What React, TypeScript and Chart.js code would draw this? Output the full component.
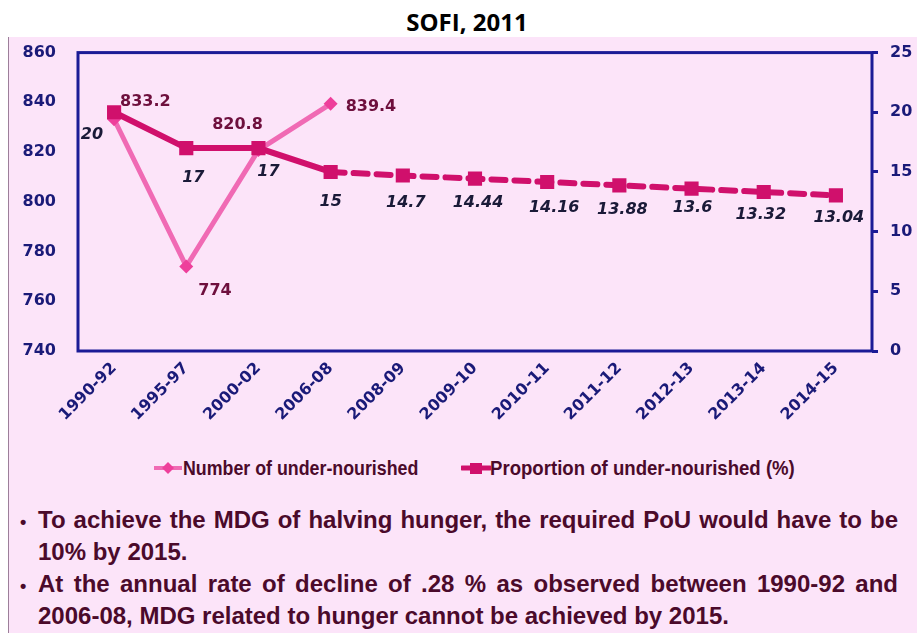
import React, { useEffect, useRef } from "react";
import { Chart, registerables } from "chart.js";

Chart.register(...registerables);

// ---- data ----
const periods = [
  "1990-92", "1995-97", "2000-02", "2006-08", "2008-09", "2009-10",
  "2010-11", "2011-12", "2012-13", "2013-14", "2014-15",
];
const underNourishedMillions: (number | null)[] = [833.2, 774, 820.8, 839.4, null, null, null, null, null, null, null];
const underNourishedPercent = [20, 17, 17, 15, 14.7, 14.44, 14.16, 13.88, 13.6, 13.32, 13.04];
const lastObservedIndex = 3; // 2006-08; later points are projections (dashed)
const leftAxis = { min: 740, max: 860, step: 20 };
const rightAxis = { min: 0, max: 25, step: 5 };

const seriesNames = ["Number of under-nourished", "Proportion of under-nourished (%)"];
const notes = [
  "To achieve the MDG of halving hunger, the required PoU would have to be 10% by  2015.",
  "At the annual rate of decline of .28 % as observed between 1990-92 and 2006-08, MDG related to hunger cannot be achieved by 2015.",
];

// ---- styles ----
const PINK_BG = "#FCE4F9";
const NAVY = "#1B1B96";
const NAVY_TEXT = "#1A1A78";
const PINK_LINE = "#F06AB4";
const PINK_MARK = "#EE3F9B";
const CRIMSON = "#D0106C";
const MAROON = "#6E0F3D";
const DARK_LABEL = "#1A1A38";
const TEXT_MAROON = "#4B0A2B";
const NARROW = '"Liberation Sans Narrow", "Arial Narrow", sans-serif';

// label placement [dx, dy, align]
const numberLabelPos: [number, number, CanvasTextAlign][] = [
  [6, -17, "left"], [12, 24, "left"], [-21, -25, "center"], [15, 3, "left"],
];
const percentLabelPos: [number, number, CanvasTextAlign][] = [
  [-11, 23, "right"], [7, 30, "center"], [10, 24, "center"], [0, 30, "center"],
  [3, 27, "center"], [3, 24, "center"], [7, 26, "center"], [3, 25, "center"],
  [1, 19, "center"], [-3, 23, "center"], [3, 22, "center"],
];

const framePlugin = {
  id: "frame",
  beforeDatasetsDraw(chart: any) {
    const { ctx, chartArea: a } = chart;
    ctx.save();
    ctx.strokeStyle = NAVY;
    ctx.lineWidth = 3;
    ctx.strokeRect(a.left, a.top, a.right - a.left, a.bottom - a.top);
    ctx.restore();
  },
};

const labelPlugin = {
  id: "pointLabels",
  afterDatasetsDraw(chart: any) {
    const { ctx } = chart;
    ctx.save();
    ctx.textBaseline = "middle";
    chart.data.datasets.forEach((ds: any, di: number) => {
      const meta = chart.getDatasetMeta(di);
      const isPct = ds.yAxisID === "y2";
      ctx.font = isPct ? 'italic bold 16px "DejaVu Sans"' : 'bold 16px "DejaVu Sans"';
      ctx.fillStyle = isPct ? DARK_LABEL : MAROON;
      const pos = isPct ? percentLabelPos : numberLabelPos;
      meta.data.forEach((pt: any, i: number) => {
        const v = ds.data[i];
        if (v == null || !pos[i]) return;
        const [dx, dy, al] = pos[i];
        ctx.textAlign = al;
        ctx.fillText(String(v), pt.x + dx, pt.y + dy);
      });
    });
    ctx.restore();
  },
};

function ChartCanvas() {
  const ref = useRef<HTMLCanvasElement | null>(null);
  useEffect(() => {
    if (!ref.current) return;
    const chart = new Chart(ref.current, {
      type: "line",
      data: {
        labels: periods,
        datasets: [
          {
            label: seriesNames[1],
            data: underNourishedPercent,
            yAxisID: "y2",
            borderColor: CRIMSON,
            backgroundColor: CRIMSON,
            borderWidth: 6,
            pointStyle: "rect",
            pointRadius: 10,
            pointBorderWidth: 0,
            pointBackgroundColor: CRIMSON,
            borderCapStyle: "round",
            tension: 0,
            order: 0,
            segment: {
              borderDash: (c: any) => (c.p0DataIndex >= lastObservedIndex ? [14, 9] : undefined),
            },
          } as any,
          {
            label: seriesNames[0],
            data: underNourishedMillions,
            yAxisID: "y",
            borderColor: PINK_LINE,
            backgroundColor: PINK_MARK,
            borderWidth: 5,
            pointStyle: "rectRot",
            pointRadius: 7,
            pointBorderWidth: 0,
            pointBackgroundColor: PINK_MARK,
            tension: 0,
            spanGaps: false,
            order: 1,
          } as any,
        ],
      },
      options: {
        animation: false,
        responsive: false,
        layout: { padding: { top: 14, left: 0, right: 0, bottom: 0 } },
        plugins: { legend: { display: false }, title: { display: false }, tooltip: { enabled: false } },
        scales: {
          x: {
            offset: true,
            grid: { display: false, drawTicks: false },
            border: { display: false },
            ticks: {
              autoSkip: false,
              maxRotation: 45,
              minRotation: 45,
              padding: 8,
              color: NAVY_TEXT,
              font: { family: "DejaVu Sans", weight: "bold", size: 16 },
            },
            afterFit: (s: any) => { s.height = 93; },
          },
          y: {
            position: "left",
            min: leftAxis.min,
            max: leftAxis.max,
            grid: { display: false, drawTicks: false },
            border: { display: false },
            ticks: {
              stepSize: leftAxis.step,
              padding: 22,
              color: NAVY_TEXT,
              font: { family: "DejaVu Sans", weight: "bold", size: 16 },
            },
            afterFit: (s: any) => { s.width = 78; },
          },
          y2: {
            position: "right",
            min: rightAxis.min,
            max: rightAxis.max,
            grid: { display: true, drawOnChartArea: false, drawTicks: true, tickLength: 6, color: NAVY, lineWidth: 3 },
            border: { display: false },
            ticks: {
              stepSize: rightAxis.step,
              padding: 12,
              color: NAVY_TEXT,
              font: { family: "DejaVu Sans", weight: "bold", size: 16 },
            },
            afterFit: (s: any) => { s.width = 45; },
          },
        },
      } as any,
      plugins: [framePlugin, labelPlugin],
    });
    return () => chart.destroy();
  }, []);
  return <canvas ref={ref} width={917} height={423} style={{ position: "absolute", left: 0, top: 21, width: 917, height: 423 }} />;
}

function Legend() {
  const font = `bold 20px ${NARROW}`;
  const textStyle: React.CSSProperties = {
    position: "absolute", top: 0, font, color: TEXT_MAROON, whiteSpace: "nowrap",
    transformOrigin: "0 50%", lineHeight: "26px",
  };
  return (
    <div style={{ position: "absolute", left: 0, top: 455, width: 917, height: 26 }}>
      <svg width={30} height={26} style={{ position: "absolute", left: 153, top: 0 }}>
        <line x1={1} y1={13} x2={29} y2={13} stroke={PINK_LINE} strokeWidth={4} />
        <polygon points="15,7 21,13 15,19 9,13" fill={PINK_MARK} />
      </svg>
      <span style={{ ...textStyle, left: 183, transform: "scaleX(0.89)" }}>{seriesNames[0]}</span>
      <svg width={30} height={26} style={{ position: "absolute", left: 461, top: 0 }}>
        <line x1={1} y1={13} x2={29} y2={13} stroke={CRIMSON} strokeWidth={5} strokeLinecap="round" />
        <rect x={9} y={8} width={12} height={11} fill={CRIMSON} />
      </svg>
      <span style={{ ...textStyle, left: 490, transform: "scaleX(0.93)" }}>{seriesNames[1]}</span>
    </div>
  );
}

function Notes() {
  return (
    <div style={{ position: "absolute", left: 20, top: 505, width: 878, font: `bold 24px ${NARROW}`, color: TEXT_MAROON, lineHeight: "30px" }}>
      {notes.map((n, i) => (
        <div key={i} style={{ paddingLeft: 18, textIndent: -18, textAlign: "justify", marginBottom: 2 }}>
          <span style={{ display: "inline-block", width: 18, textIndent: 0, fontSize: 18 }}>•</span>
          {n}
        </div>
      ))}
    </div>
  );
}

export default function App() {
  return (
    <div style={{ position: "absolute", left: 0, top: 0, width: 917, height: 633, background: "#fff", overflow: "hidden" }}>
      <div style={{ position: "absolute", left: 8, top: 37, width: 909, height: 596, background: PINK_BG, borderLeft: "1px solid #9C7F9A", boxSizing: "border-box" }} />
      <div style={{ position: "absolute", left: 0, top: 5, width: 934, textAlign: "center", font: 'bold 24px "Open Sans", sans-serif', color: "#000" }}>SOFI, 2011</div>
      <ChartCanvas />
      <Legend />
      <Notes />
    </div>
  );
}
